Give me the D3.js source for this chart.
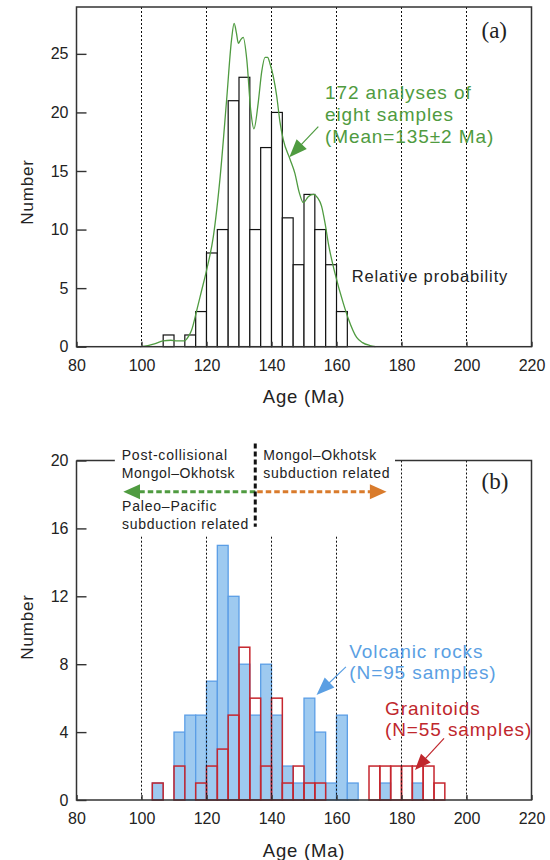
<!DOCTYPE html>
<html><head><meta charset="utf-8">
<script src="https://cdn.jsdelivr.net/npm/d3@7"></script>
<style>body{margin:0;background:#fff}svg{display:block}</style>
</head><body><svg id="c" width="550" height="860" font-family='"Liberation Sans",Arial,sans-serif'></svg>
<script>
// ---------- data ----------
const xTicks = [80,100,120,140,160,180,200,220];
const refLinesA = [100,120,140,160,180,200];
const refLinesBShort = [100,120,140,160];
const refLinesBLong = [180,200];
const yTicksA = [0,5,10,15,20,25];
const yTicksB = [0,4,8,12,16,20];
const binW = 10/3;
// panel (a) histogram
const topBinStart = [106.67,110,113.33,116.67,120,123.33,126.67,130,133.33,136.67,140,143.33,146.67,150,153.33,156.67,160];
const topCounts   = [1,0,1,3,8,10,21,23,10,17,20,11,7,13,10,7,3];
// panel (a) relative probability curve [age, scaled value]
const probAge = [99.5,102,104,106.7,109,111,113.2,114.5,115.4,117,118.5,120,122.1,124.2,126.2,127.7,128.5,129.2,129.8,130.5,131.3,132.4,133.6,134.6,135.9,137,138,138.8,139.5,141.6,142.6,143.6,145.7,147.2,148.5,149.8,151.3,152.9,154.2,155.4,156.5,157.5,159.5,162.1,163.5,166.2,168,170.3,172];
const probVal = [0,0.1,0.25,0.5,0.55,0.5,0.5,0.9,1.4,3.1,4.8,6.5,9.4,14.5,21.1,26.2,27.6,26.8,25.9,26.2,26.4,24.5,20.2,18.6,20.8,23.5,24.7,24.7,24.2,21.4,19.2,17.7,16.0,14.8,13.2,12.3,12.8,13.0,12.7,12.0,10.5,8.8,6.3,3.7,2.5,0.8,0.35,0.1,0];
// panel (b) histograms
const botBinStart = [103.33,106.67,110,113.33,116.67,120,123.33,126.67,130,133.33,136.67,140,143.33,146.67,150,153.33,156.67,160,163.33,166.67,170,173.33,176.67,180,183.33,186.67,190];
const volcanic    = [1,0,4,5,5,7,15,12,8,5,8,5,2,1,6,4,1,5,1,0,0,1,0,0,1,0,0];
const granitoid   = [1,0,2,0,1,2,3,5,9,6,2,6,1,2,1,1,0,0,0,0,2,2,2,2,2,2,1];

// ---------- scales ----------
const x  = d3.scaleLinear().domain([80,220]).range([76.5,531.5]);
const yA = d3.scaleLinear().domain([0,29]).range([346.7,7]);
const yB = d3.scaleLinear().domain([0,20]).range([800,460.5]);
const svg = d3.select('#c');
const SANS = '"Liberation Sans",Arial,sans-serif';
const SERIF = '"Liberation Serif","Times New Roman",serif';

function txt(g, s, px, py, o={}) {
  return g.append('text').attr('x',px).attr('y',py).text(s)
    .attr('font-size',o.size||14).attr('fill',o.color||'#222')
    .style('letter-spacing',(o.ls||0)+'px')
    .style('font-family',o.family||SANS);
}
function arrow(g,x1,y1,x2,y2,color,len,hw,w,dash){
  const dx=x2-x1, dy=y2-y1, d=Math.hypot(dx,dy), ux=dx/d, uy=dy/d;
  const bx=x2-ux*len, by=y2-uy*len;
  const l=g.append('line').attr('x1',x1).attr('y1',y1).attr('x2',bx+ux).attr('y2',by+uy)
    .attr('stroke',color).attr('stroke-width',w);
  if(dash) l.attr('stroke-dasharray',dash);
  g.append('path').attr('d',`M${x2},${y2}L${bx-uy*hw},${by+ux*hw}L${bx+uy*hw},${by-ux*hw}Z`).attr('fill',color);
}
function styleAxis(g){
  g.attr('font-family',null);
  g.select('.domain').remove();
  g.selectAll('.tick line').attr('stroke','#333').attr('stroke-width',1.4);
  g.selectAll('.tick text').attr('font-size',16).attr('fill','#222').style('font-family',SANS);
}

// ================= panel (a) =================
const gA = svg.append('g');
gA.selectAll('rect.h').data(topBinStart.map((s,i)=>({s,c:topCounts[i]})).filter(d=>d.c>0))
  .join('rect').attr('x',d=>x(d.s)).attr('width',d=>x(d.s+binW)-x(d.s))
  .attr('y',d=>yA(d.c)).attr('height',d=>yA(0)-yA(d.c))
  .attr('fill','#fff').attr('stroke','#111').attr('stroke-width',1.2);
gA.selectAll('line.ref').data(refLinesA).join('line')
  .attr('x1',d=>x(d)).attr('x2',d=>x(d)).attr('y1',yA(29)).attr('y2',yA(0))
  .attr('stroke','#111').attr('stroke-width',1).attr('stroke-dasharray','2,2');
const probPts = probAge.map((a,i)=>[a,probVal[i]]);
gA.append('path').attr('d',d3.line().x(d=>x(d[0])).y(d=>yA(d[1])).curve(d3.curveMonotoneX)(probPts))
  .attr('fill','none').attr('stroke','#4f9b40').attr('stroke-width',1.3);
gA.append('rect').attr('x',x(80)).attr('y',yA(29)).attr('width',x(220)-x(80)).attr('height',yA(0)-yA(29))
  .attr('fill','none').attr('stroke','#333').attr('stroke-width',1.5);
gA.append('g').attr('transform',`translate(${x(80)},0)`)
  .call(d3.axisLeft(yA).tickValues(yTicksA).tickSize(-10).tickPadding(8)).call(styleAxis);
gA.append('g').attr('transform',`translate(0,${yA(0)})`)
  .call(d3.axisBottom(x).tickValues(xTicks).tickSize(-5).tickPadding(13)).call(styleAxis);
txt(gA,'Age (Ma)',(x(80)+x(220))/2,yA(0)+56,{size:18.5,ls:0.8}).attr('text-anchor','middle');
txt(gA,'Number',0,0,{size:17,ls:0.8}).attr('text-anchor','middle').attr('transform','translate(33,192) rotate(-90)');
txt(gA,'(a)',481.5,38,{size:23,family:SERIF});
const green='#4f9b40';
txt(gA,'172 analyses of',x(156.46),99.3,{size:19,ls:0.9,color:green});
txt(gA,'eight samples',x(156.46),121,{size:19,ls:0.9,color:green});
txt(gA,'(Mean=135±2 Ma)',x(156.46),143.3,{size:19,ls:0.9,color:green});
arrow(gA,x(154.4),yA(18.79),x(145.48),yA(16.18),green,18,7,1.2);
txt(gA,'Relative probability',x(164.7),282.3,{size:16.5,ls:0.85});

// ================= panel (b) =================
const gB = svg.append('g');
const bData = botBinStart.map((s,i)=>({s,v:volcanic[i],g:granitoid[i]}));
gB.selectAll('rect.v').data(bData.filter(d=>d.v>0)).join('rect')
  .attr('x',d=>x(d.s)).attr('width',d=>x(d.s+binW)-x(d.s))
  .attr('y',d=>yB(d.v)).attr('height',d=>yB(0)-yB(d.v))
  .attr('fill','#9ecaf0').attr('stroke','#5b9ee6').attr('stroke-width',1.3);
gB.selectAll('rect.g').data(bData.filter(d=>d.g>0)).join('rect')
  .attr('x',d=>x(d.s)).attr('width',d=>x(d.s+binW)-x(d.s))
  .attr('y',d=>yB(d.g)).attr('height',d=>yB(0)-yB(d.g))
  .attr('fill','none').attr('stroke','#c6262e').attr('stroke-width',1.5);
gB.selectAll('line.rs').data(refLinesBShort).join('line')
  .attr('x1',d=>x(d)).attr('x2',d=>x(d)).attr('y1',yB(15.51)).attr('y2',yB(0))
  .attr('stroke','#111').attr('stroke-width',1).attr('stroke-dasharray','2,2');
gB.selectAll('line.rl').data(refLinesBLong).join('line')
  .attr('x1',d=>x(d)).attr('x2',d=>x(d)).attr('y1',yB(20)).attr('y2',yB(0))
  .attr('stroke','#111').attr('stroke-width',1).attr('stroke-dasharray','2,2');
gB.append('path')
  .attr('d',`M${x(80)},${yB(20)}H${x(91.8)}M${x(178)},${yB(20)}H${x(220)}V${yB(0)}H${x(80)}V${yB(20)}`)
  .attr('fill','none').attr('stroke','#333').attr('stroke-width',1.5);
gB.append('g').attr('transform',`translate(${x(80)},0)`)
  .call(d3.axisLeft(yB).tickValues(yTicksB).tickSize(-10).tickPadding(8)).call(styleAxis);
gB.append('g').attr('transform',`translate(0,${yB(0)})`)
  .call(d3.axisBottom(x).tickValues(xTicks).tickSize(-5).tickPadding(13)).call(styleAxis);
txt(gB,'Age (Ma)',(x(80)+x(220))/2,yB(0)+57,{size:18.5,ls:0.8}).attr('text-anchor','middle');
txt(gB,'Number',0,0,{size:17,ls:0.8}).attr('text-anchor','middle').attr('transform','translate(33,627) rotate(-90)');
txt(gB,'(b)',481.5,488.5,{size:23,family:SERIF});
// tectonic divide
const arrowY = yB(18.16);
arrow(gB,x(135),arrowY,x(94.4),arrowY,'#4f9b40',16.7,7.5,3,'5.5,3');
arrow(gB,x(135)+2,arrowY,x(175.4),arrowY,'#d97b2c',16.7,7.5,3,'5.5,3');
gB.append('line').attr('x1',x(135)).attr('x2',x(135)).attr('y1',yB(21)).attr('y2',yB(16.1))
  .attr('stroke','#111').attr('stroke-width',3).attr('stroke-dasharray','5,3');
txt(gB,'Post-collisional',121.7,460,{size:14,ls:0.8});
txt(gB,'Mongol–Okhotsk',121.7,477.7,{size:14,ls:0.6});
txt(gB,'Paleo–Pacific',122,511,{size:14,ls:0.8});
txt(gB,'subduction related',122,529.3,{size:14,ls:0.7});
txt(gB,'Mongol–Okhotsk',263.3,460,{size:14,ls:0.6});
txt(gB,'subduction related',263.3,477.7,{size:14,ls:0.7});
const blue='#5b9fe3', red='#c0272d';
txt(gB,'Volcanic rocks',349.3,658.3,{size:19,ls:0.9,color:blue});
txt(gB,'(N=95 samples)',349.3,679,{size:19,ls:0.9,color:blue});
arrow(gB,x(162.9),yB(7.84),x(153.85),yB(6.19),blue,18,7,1.2);
txt(gB,'Granitoids',385,714.5,{size:19,ls:0.9,color:red});
txt(gB,'(N=55 samples)',385,736,{size:19,ls:0.9,color:red});
arrow(gB,x(193.08),yB(3.63),x(184.15),yB(1.77),red,16,6.5,1.2);
</script></body></html>
